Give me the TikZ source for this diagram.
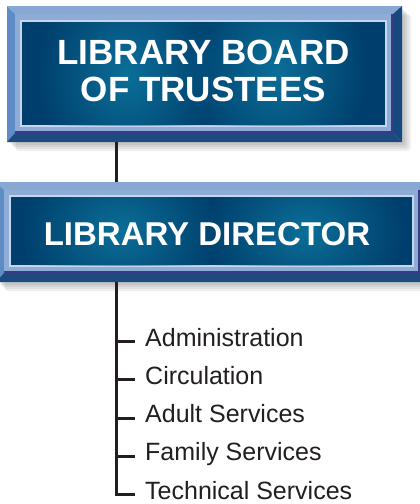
\documentclass[tikz,border=0pt]{standalone}
\usepackage{fontspec}
\setmainfont{Liberation Sans}
\usetikzlibrary{fadings}
\definecolor{navy}{HTML}{003F6D}
\definecolor{glowc}{HTML}{0B6F98}
\definecolor{frameL}{HTML}{8EADD6}
\definecolor{paleL}{HTML}{C6D6EC}
\definecolor{bevT}{HTML}{86A8D3}
\definecolor{bevL}{HTML}{5D8DC4}
\definecolor{bevB}{HTML}{1D4B80}
\definecolor{bevR}{HTML}{164A7E}
\definecolor{purp}{HTML}{3A3A86}
\definecolor{ink}{HTML}{231F20}
\tikzfading[name=glowfade, inner color=transparent!0, outer color=transparent!100]
% #1 x0, #2 y0, #3 x1, #4 y1 (outer); #5 px0, #6 py0, #7 px1, #8 py1 (panel)
\newcommand\libbox[8]{%
  \foreach \k in {3,5,7,9}{\fill[black, opacity=.06, rounded corners=3pt] ({#1+\k},{#2+\k}) rectangle ({#3+\k},{#4+\k});}
  \fill[bevT] (#1,#2) -- (#3,#2) -- ({#3-9},{#2+8}) -- ({#1+8},{#2+8}) -- cycle;
  \fill[bevL] (#1,#2) -- ({#1+8},{#2+8}) -- ({#1+8},{#4-9}) -- (#1,#4) -- cycle;
  \fill[bevB] (#1,#4) -- ({#1+8},{#4-9}) -- ({#3-9},{#4-9}) -- (#3,#4) -- cycle;
  \fill[bevR] (#3,#2) -- ({#3-9},{#2+8}) -- ({#3-9},{#4-9}) -- (#3,#4) -- cycle;
  \fill[frameL] ({#1+8},{#2+8}) rectangle ({#3-9},{#4-9});
  \fill[purp] ({#3-11},{#2+8}) rectangle ({#3-9},{#4-9});
  \fill[purp] ({#1+8},{#4-11}) rectangle ({#3-9},{#4-9});
  \fill[paleL] ({#5-2},{#6-2}) rectangle ({#7+2},{#8+2});
  \fill[navy] (#5,#6) rectangle (#7,#8);
}
\newcommand\glow[4]{\fill[glowc, path fading=glowfade] (#1,#2) ellipse ({#3} and {#4});}
\tikzset{
  conn/.style={line width=3pt, draw=ink},
  outerframe/.style={rectangle, inner sep=0pt, outer sep=0pt},
  titletext/.style={font=\bfseries\fontsize{35}{37}\selectfont, text=white, align=center, inner sep=0pt},
  dirtext/.style={font=\bfseries\fontsize{33}{37}\selectfont, text=white, inner sep=0pt},
  item/.style={font=\fontsize{25}{30}\selectfont, text=ink, inner sep=0pt, anchor=base west}
}
\begin{document}
\begin{tikzpicture}[x=1pt, y=-1pt]
\fill[white] (0,0) rectangle (420,504);
\useasboundingbox (0,0) rectangle (420,504);

% top box
\libbox{7}{6}{402}{142}{22}{22}{385}{125}
\begin{scope}
  \clip (22,22) rectangle (385,125);
  \glow{127}{74}{90}{110}
  \glow{277}{70}{90}{110}
\end{scope}
\node[outerframe, minimum width=395pt, minimum height=136pt] (board) at (204.5,74) {};
\node[titletext] (boardtext) at (203.5,71) {LIBRARY BOARD\\OF TRUSTEES};

% director box
\libbox{-4}{182}{429}{282}{11}{197}{412}{265}
\begin{scope}
  \clip (11,197) rectangle (412,265);
  \glow{120}{231}{100}{80}
  \glow{305}{231}{100}{80}
\end{scope}
\node[outerframe, minimum width=433pt, minimum height=100pt] (director) at (212.5,232) {};
\node[dirtext] (directortext) at (207,234.2) {LIBRARY DIRECTOR};

% items
\coordinate (trunk) at (116,0);
\node[item] (adm) at (145,346) {Administration};
\node[item] (circ) at (145,384.3) {Circulation};
\node[item] (adult) at (145,422.6) {Adult Services};
\node[item] (family) at (145,460.9) {Family Services};
\node[item] (tech) at (145,499.2) {Technical Services};
\foreach \n in {adm,circ,adult,family,tech}{
  \coordinate (\n-tick) at ([xshift=-10pt, yshift=4.5pt]\n.base west);
}

% connectors
\draw[conn] (board.south -| trunk) -- (director.north -| trunk);
\draw[conn, line join=miter] (director.south -| trunk) |- (tech-tick);
\foreach \n in {adm,circ,adult,family}{
  \draw[conn] (trunk |- \n-tick) -- (\n-tick);
}
\end{tikzpicture}
\end{document}
